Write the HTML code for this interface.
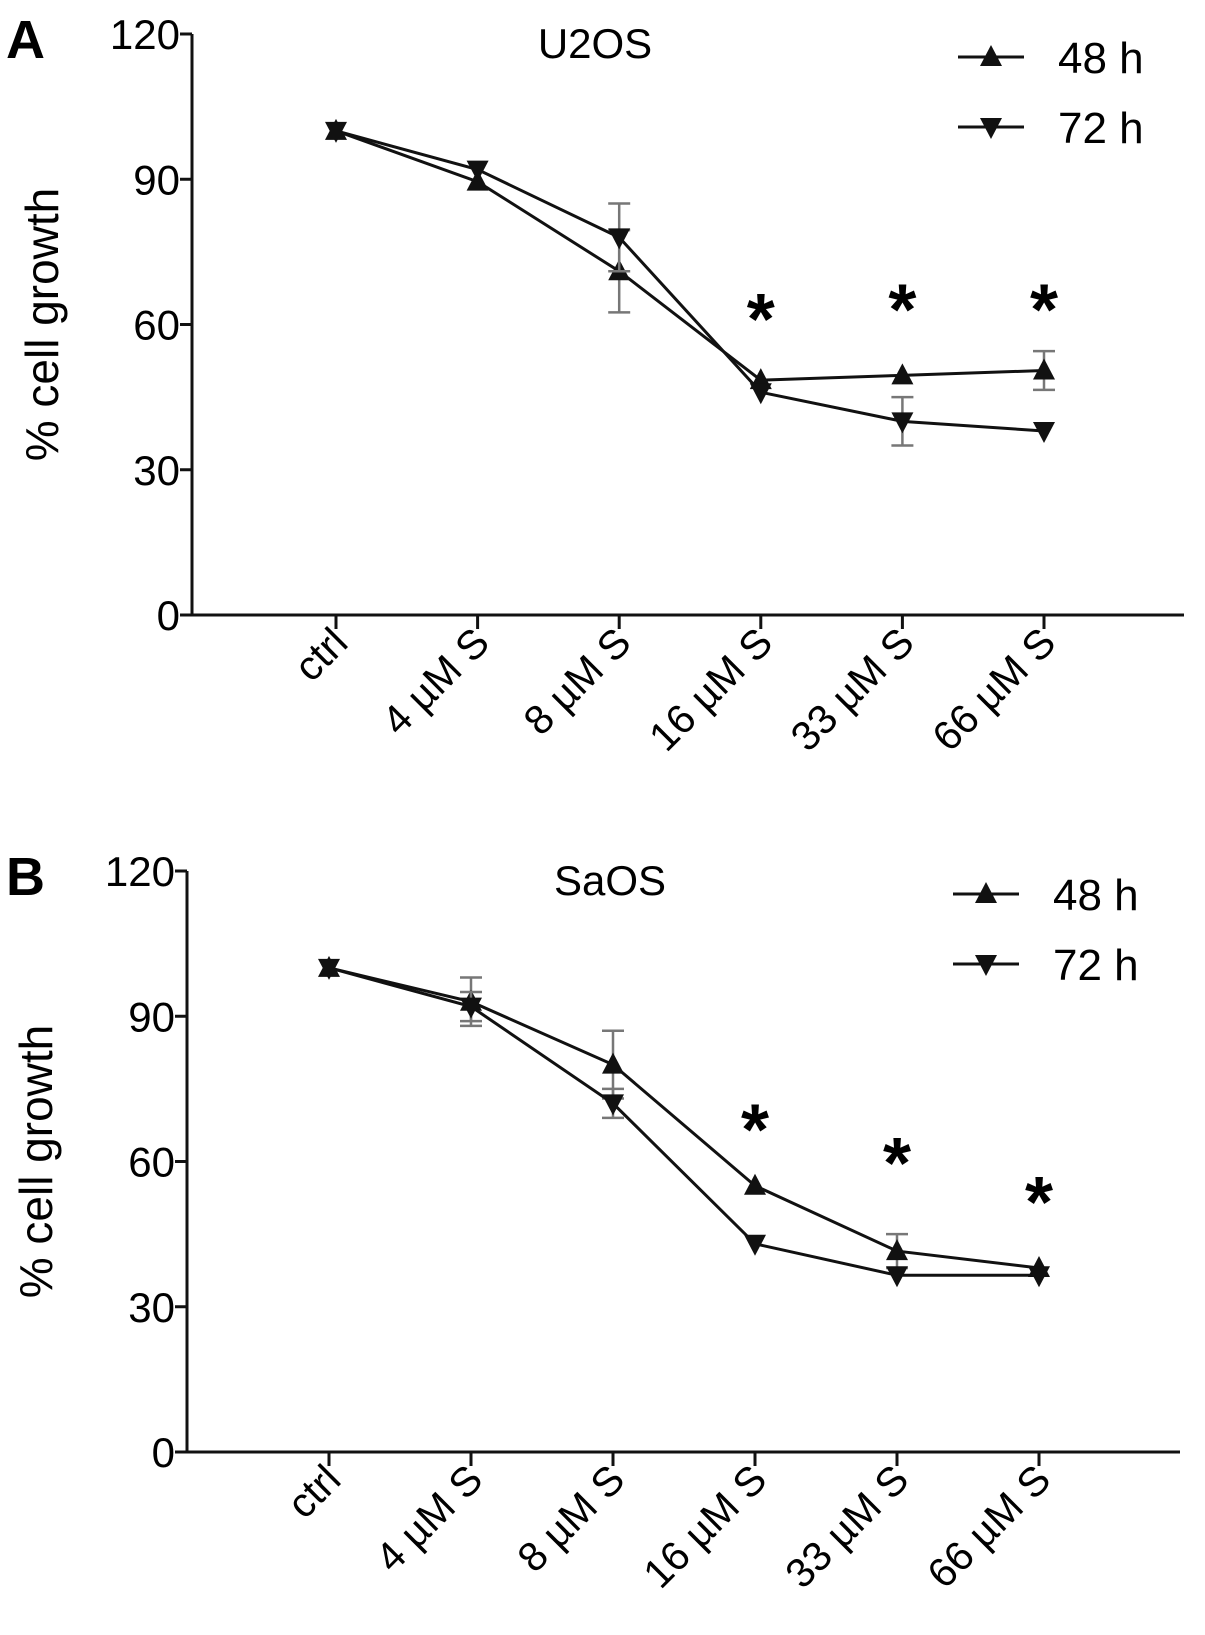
<!DOCTYPE html>
<html><head><meta charset="utf-8"><style>
body{margin:0;background:#fff}
svg{display:block;font-family:"Liberation Sans",sans-serif}
</style></head><body>
<svg id="fig" width="1205" height="1635" viewBox="0 0 1205 1635"></svg>
<script>
const categories=["ctrl","4 µM S","8 µM S","16 µM S","33 µM S","66 µM S"];
const yTicks=[0,30,60,90,120];
const a48=[100,89.5,71,48.5,49.5,50.5];
const a48Err=[1,1,8.5,1,1,4];
const a72=[100,92,78,46,40,38];
const a72Err=[1,1,7,1,5,1];
const aStars=[3,4,5];
const aStarY=[63,65,65];
const b48=[100,93,80,55,41.5,38];
const b48Err=[1,5,7,1,3.5,1];
const b72=[100,92,72,43,36.5,36.5];
const b72Err=[1,3,3,1,1,1];
const bStars=[3,4,5];
const bStarY=[68.5,61.5,53.5];

const NS="http://www.w3.org/2000/svg";
const svg=document.getElementById('fig');
function mk(t,attrs,parent){const e=document.createElementNS(NS,t);for(const k in attrs)e.setAttribute(k,attrs[k]);(parent||svg).appendChild(e);return e;}

function panel(cfg){
  const g=mk('g',{});
  
  
  const xs=v=>cfg.x0+v*cfg.dx;
  const ys=v=>cfg.yb+(cfg.yt-cfg.yb)*v/120;
  let t;
  t=mk('text',{x:cfg.lx,y:cfg.yt+24,'font-size':54,'font-weight':'bold'},g);t.textContent=cfg.letter;
  
  t=mk('text',{x:cfg.titleX,y:cfg.yt+24,'font-size':42,'text-anchor':'middle'},g);t.textContent=cfg.title;
  
  let ax=mk('line',{x1:cfg.ax,y1:cfg.yt,x2:cfg.ax,y2:cfg.yb,stroke:'#111','stroke-width':3},g);
  
  ax=mk('line',{x1:cfg.ax-10,y1:cfg.yb,x2:cfg.xend,y2:cfg.yb,stroke:'#111','stroke-width':3},g);
  
  yTicks.forEach(v=>{
    mk('line',{x1:cfg.ax-12,y1:ys(v),x2:cfg.ax,y2:ys(v),stroke:'#111','stroke-width':3},g);
    const tt=mk('text',{x:cfg.ax-12,y:ys(v)+15,'font-size':42,'text-anchor':'end'},g);tt.textContent=v;
    
  });
  categories.forEach((c,i)=>{
    mk('line',{x1:xs(i),y1:cfg.yb,x2:xs(i),y2:cfg.yb+14,stroke:'#111','stroke-width':3},g);
    const tt=mk('text',{x:0,y:0,'font-size':41,'text-anchor':'end',transform:`translate(${xs(i)+14},${cfg.yb+30}) rotate(-45)`},g);
    tt.textContent=c;
    
  });
  t=mk('text',{x:0,y:0,'font-size':46,'text-anchor':'middle',transform:`translate(${cfg.ylx},${(cfg.yt+cfg.yb)/2}) rotate(-90)`},g);
  t.textContent='% cell growth';
  
  function series(vals,errs,up,name){
    const sg=mk('g',{},g);
    
    vals.forEach((v,i)=>{
      if(errs[i]>1.5){
        const x=xs(i),y1=ys(v+errs[i]),y2=ys(v-errs[i]);
        mk('line',{x1:x,y1:y1,x2:x,y2:y2,stroke:'#777','stroke-width':2.5},sg);
        mk('line',{x1:x-11,y1:y1,x2:x+11,y2:y1,stroke:'#777','stroke-width':2.5},sg);
        mk('line',{x1:x-11,y1:y2,x2:x+11,y2:y2,stroke:'#777','stroke-width':2.5},sg);
      }
    });
    mk('polyline',{points:vals.map((v,i)=>xs(i)+','+ys(v)).join(' '),fill:'none',stroke:'#111','stroke-width':3},sg);
    vals.forEach((v,i)=>{
      const x=xs(i),y=ys(v);
      const p=up?`${x},${y-12} ${x-11},${y+9} ${x+11},${y+9}`:`${x},${y+12} ${x-11},${y-9} ${x+11},${y-9}`;
      const m=mk('polygon',{points:p,fill:'#111'},sg);
      
    });
  }
  series(cfg.s48,cfg.e48,true,'series-48h');
  series(cfg.s72,cfg.e72,false,'series-72h');
  cfg.stars.forEach((ci,k)=>{
    const s=mk('text',{x:xs(ci),y:ys(cfg.starY[k])+34,'font-size':72,'font-weight':'bold','text-anchor':'middle'},g);
    s.textContent='*';
    
  });
  [[true,'48 h',cfg.legY],[false,'72 h',cfg.legY+70]].forEach(([up,lab,y])=>{
    const lg=mk('g',{},g);
    
    mk('line',{x1:cfg.legX,y1:y,x2:cfg.legX+66,y2:y,stroke:'#111','stroke-width':3},lg);
    const x=cfg.legX+33;
    mk('polygon',{points:up?`${x},${y-12} ${x-11},${y+9} ${x+11},${y+9}`:`${x},${y+12} ${x-11},${y-9} ${x+11},${y-9}`,fill:'#111'},lg);
    const lt=mk('text',{x:cfg.legX+100,y:y+16,'font-size':44},lg);lt.textContent=lab;
  });
}
panel({name:'panel-a-u2os',letter:'A',title:'U2OS',lx:6,titleX:595,ax:192,yt:34,yb:615,x0:336,dx:141.6,xend:1184,ylx:58,
  s48:a48,e48:a48Err,s72:a72,e72:a72Err,stars:aStars,starY:aStarY,legX:958,legY:57});
panel({name:'panel-b-saos',letter:'B',title:'SaOS',lx:6,titleX:610,ax:187,yt:871,yb:1452,x0:329,dx:142,xend:1180,ylx:52,
  s48:b48,e48:b48Err,s72:b72,e72:b72Err,stars:bStars,starY:bStarY,legX:953,legY:894});
</script>
</body></html>
